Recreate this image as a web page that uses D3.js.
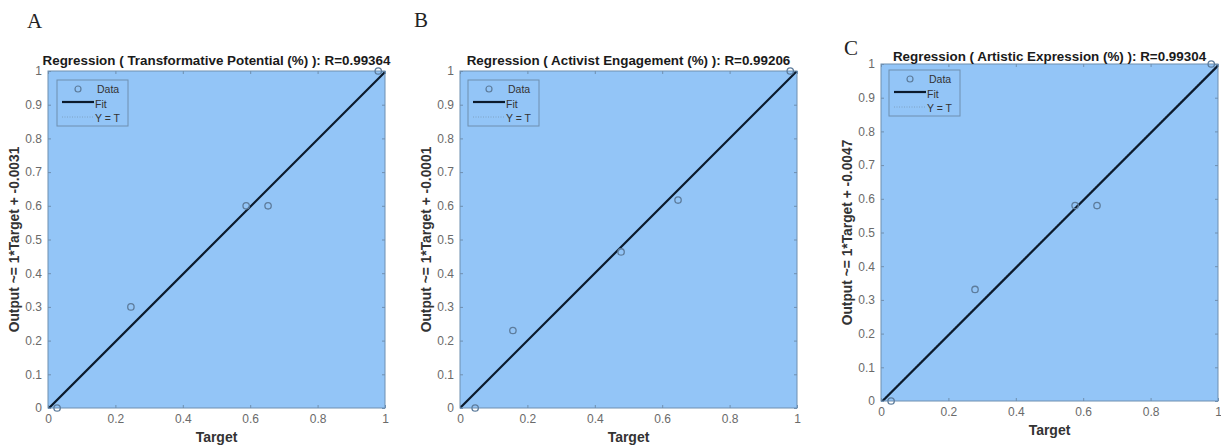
<!DOCTYPE html>
<html><head><meta charset="utf-8">
<script src="https://cdn.jsdelivr.net/npm/d3@7"></script>
<style>body{margin:0;background:#fff} svg{display:block} text{font-family:"Liberation Sans",Arial,sans-serif}</style>
</head><body><svg id="c" width="1221" height="448"></svg>
<script>
// ---- data ----
const panelLetters = ["A", "B", "C"];
const panelTitles = ["Transformative Potential (%)", "Activist Engagement (%)", "Artistic Expression (%)"];
const rValues = ["0.99364", "0.99206", "0.99304"];
const fitSlopes = [1, 1, 1];
const fitIntercepts = [-0.0031, -0.0001, -0.0047];
const fitInterceptLabels = ["-0.0031", "-0.0001", "-0.0047"];
const targetsA = [0.027, 0.246, 0.588, 0.653, 0.98];
const outputsA = [0.0, 0.30, 0.60, 0.60, 1.0];
const targetsB = [0.045, 0.157, 0.478, 0.647, 0.98];
const outputsB = [0.0, 0.23, 0.463, 0.617, 1.0];
const targetsC = [0.03, 0.279, 0.576, 0.641, 0.98];
const outputsC = [0.0, 0.331, 0.58, 0.58, 1.0];
const xTicks = [0, 0.2, 0.4, 0.6, 0.8, 1];
const yTicks = [0, 0.1, 0.2, 0.3, 0.4, 0.5, 0.6, 0.7, 0.8, 0.9, 1];
const legendLabels = ["Data", "Fit", "Y = T"];
const xLabel = "Target";

const targets = [targetsA, targetsB, targetsC];
const outputs = [outputsA, outputsB, outputsC];

// ---- layout ----
const layout = [
  {x: 48, y: 71, s: 337, lx: 27, ly: 28, ty: 65, lgx: 9, lgy: 9},
  {x: 460, y: 71, s: 337, lx: 414, ly: 27, ty: 65, lgx: 8, lgy: 9},
  {x: 881, y: 64, s: 337, lx: 844, ly: 55, ty: 61, lgx: 8, lgy: 6}
];
const bg = "#93c5f7", border = "#6f8fb0", lineCol = "#0b1a2c", ptCol = "#5d7c9c", tickTxt = "#6a6a6a";

const svg = d3.select("#c");

panelLetters.forEach((letter, i) => {
  const L = layout[i];
  const x = d3.scaleLinear().domain([0, 1]).range([L.x, L.x + L.s]);
  const y = d3.scaleLinear().domain([0, 1]).range([L.y + L.s, L.y]);
  const g = svg.append("g");

  g.append("text").attr("x", L.lx).attr("y", L.ly)
    .style("font-family", '"Liberation Serif","Times New Roman",serif')
    .style("font-size", "21px").attr("fill", "#222").text(letter);

  g.append("rect").attr("x", L.x).attr("y", L.y).attr("width", L.s).attr("height", L.s)
    .attr("fill", bg);

  // axes (ticks inward)
  const axB = d3.axisBottom(x).tickValues(xTicks).tickSize(-3).tickPadding(6).tickFormat(d3.format("~g"));
  const axT = d3.axisTop(x).tickValues(xTicks).tickSize(-3).tickFormat("");
  const axL = d3.axisLeft(y).tickValues(yTicks).tickSize(-3).tickPadding(6).tickFormat(d3.format("~g"));
  const axR = d3.axisRight(y).tickValues(yTicks).tickSize(-3).tickFormat("");
  const axes = [
    g.append("g").attr("transform", `translate(0,${L.y + L.s})`).call(axB),
    g.append("g").attr("transform", `translate(0,${L.y})`).call(axT),
    g.append("g").attr("transform", `translate(${L.x},0)`).call(axL),
    g.append("g").attr("transform", `translate(${L.x + L.s},0)`).call(axR)
  ];
  axes.forEach(a => {
    a.select(".domain").remove();
    a.selectAll(".tick line").attr("stroke", border).attr("stroke-width", 1);
    a.selectAll(".tick text").attr("fill", tickTxt).style("font-size", "12px")
      .style("font-family", '"Liberation Sans",Arial,sans-serif');
  });

  // clip
  const cid = "clip" + i;
  g.append("clipPath").attr("id", cid).append("rect")
    .attr("x", L.x).attr("y", L.y).attr("width", L.s).attr("height", L.s);
  const pl = g.append("g").attr("clip-path", `url(#${cid})`);

  // Y = T
  pl.append("line").attr("x1", x(0)).attr("y1", y(0)).attr("x2", x(1)).attr("y2", y(1))
    .attr("stroke", "#7a8a9a").attr("stroke-width", 0.8).attr("stroke-dasharray", "1,2");
  // Fit
  const fx = [0, 1];
  pl.append("line")
    .attr("x1", x(fx[0])).attr("y1", y(fitSlopes[i] * fx[0] + fitIntercepts[i]))
    .attr("x2", x(fx[1])).attr("y2", y(fitSlopes[i] * fx[1] + fitIntercepts[i]))
    .attr("stroke", lineCol).attr("stroke-width", 2.2);

  // border
  g.append("rect").attr("x", L.x).attr("y", L.y).attr("width", L.s).attr("height", L.s)
    .attr("fill", "none").attr("stroke", border).attr("stroke-width", 1);

  // data
  g.selectAll("circle.pt").data(targets[i].map((t, k) => [t, outputs[i][k]])).join("circle")
    .attr("class", "pt").attr("cx", d => x(d[0])).attr("cy", d => y(d[1])).attr("r", 3.2)
    .attr("fill", "none").attr("stroke", ptCol).attr("stroke-width", 1.3);

  // legend
  const lg = g.append("g").attr("transform", `translate(${L.x + L.lgx},${L.y + L.lgy})`);
  lg.append("rect").attr("width", 71).attr("height", 46).attr("fill", bg)
    .attr("stroke", border).attr("stroke-width", 1);
  lg.append("circle").attr("cx", 21).attr("cy", 9).attr("r", 3).attr("fill", "none")
    .attr("stroke", ptCol).attr("stroke-width", 1.2);
  lg.append("line").attr("x1", 5).attr("x2", 37).attr("y1", 22).attr("y2", 22)
    .attr("stroke", lineCol).attr("stroke-width", 2.2);
  lg.append("line").attr("x1", 5).attr("x2", 37).attr("y1", 37).attr("y2", 37)
    .attr("stroke", "#7a9ab8").attr("stroke-width", 0.8).attr("stroke-dasharray", "1,1.5");
  legendLabels.forEach((lab, k) => {
    lg.append("text").attr("x", k === 0 ? 40 : 38).attr("y", 13 + k * 14.5)
      .style("font-size", "10.5px").attr("fill", "#333").text(lab);
  });

  // title
  g.append("text").attr("x", L.x + L.s / 2).attr("y", L.ty).attr("text-anchor", "middle")
    .style("font-size", "13.4px").style("font-weight", "bold").attr("fill", "#1a1a1a")
    .text(`Regression ( ${panelTitles[i]} ): R=${rValues[i]}`);

  // axis labels
  g.append("text").attr("x", L.x + L.s / 2).attr("y", L.y + L.s + 34).attr("text-anchor", "middle")
    .style("font-size", "14px").style("font-weight", "bold").attr("fill", "#333").text(xLabel);
  g.append("text").attr("transform", `translate(${L.x - 29},${L.y + L.s / 2}) rotate(-90)`)
    .attr("text-anchor", "middle").style("font-size", "13.8px").style("font-weight", "bold")
    .attr("fill", "#333").text(`Output ~= ${fitSlopes[i]}*Target + ${fitInterceptLabels[i]}`);
});
</script></body></html>
